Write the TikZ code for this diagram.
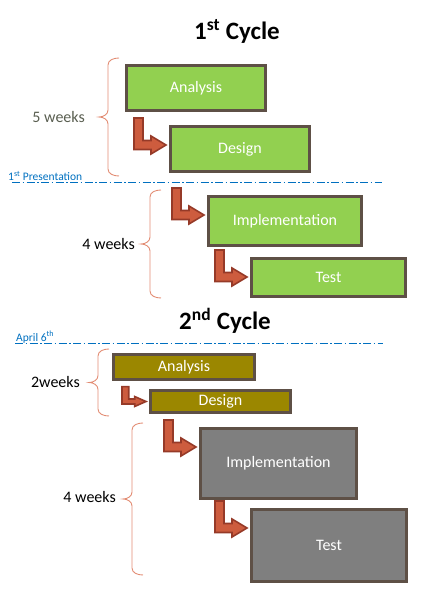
\documentclass[tikz,border=0pt]{standalone}
\usepackage{fontspec}
\setmainfont{Carlito}
\usepackage{tikz}
\usetikzlibrary{calc}
\definecolor{phasegreen}{RGB}{146,208,80}
\definecolor{phaseolive}{RGB}{155,135,0}
\definecolor{phasegray}{RGB}{127,127,127}
\definecolor{phaseedge}{RGB}{94,80,70}
\definecolor{stepfill}{RGB}{205,92,62}
\definecolor{stepedge}{RGB}{150,58,40}
\definecolor{bracecol}{RGB}{226,140,115}
\definecolor{markblue}{RGB}{0,112,192}
\definecolor{weekgray}{RGB}{89,94,80}

% bent block arrow, tip at #2
\newcommand{\steparrow}[2][]{%
  \draw[steparr, shift={(#2)}, #1] (0bp,0bp) -- (-15bp,9bp) -- (-15bp,4.5bp) -- (-23bp,4.5bp) -- (-23bp,27bp) -- (-32bp,27bp) -- (-32bp,-4.5bp) -- (-15bp,-4.5bp) -- (-15bp,-9bp) -- cycle;}
% curly bracket: x of the ends, top y, bottom y
\newcommand{\weekbrace}[3]{%
  \draw[weekbrace] (#1bp,#2bp) to[out=180,in=90] (#1bp-11bp,#2bp-7bp) -- (#1bp-11bp,#2bp/2+#3bp/2+7bp)
    to[out=-90,in=0] (#1bp-20bp,#2bp/2+#3bp/2) to[out=0,in=90] (#1bp-11bp,#2bp/2+#3bp/2-7bp)
    -- (#1bp-11bp,#3bp+7bp) to[out=-90,in=180] (#1bp,#3bp);}

\begin{document}
\begin{tikzpicture}[line join=miter,
  phase/.style={draw=phaseedge, line width=3bp, inner sep=0pt, text=white, font=\fontsize{16bp}{18bp}\selectfont},
  cycletitle/.style={font=\bfseries\fontsize{25bp}{28bp}\selectfont},
  steparr/.style={fill=stepfill, draw=stepedge, line width=1.6bp},
  weekbrace/.style={draw=bracecol, line width=0.9bp},
  weeklabel/.style={anchor=east, inner sep=0pt, font=\fontsize{16bp}{18bp}\selectfont},
  milestone/.style={draw=markblue, line width=0.9bp, dash pattern=on 8bp off 2.5bp on 1.5bp off 2.5bp},
  marktext/.style={anchor=west, inner sep=0pt, text=markblue, font=\fontsize{11.5bp}{13bp}\selectfont}]
\useasboundingbox (0bp,0bp) rectangle (425bp,596bp);
%% 1st cycle
\node (cycleA) at (237bp,565bp) [cycletitle] {1\textsuperscript{st} Cycle};
\node (anaA) at (196bp,508bp) [phase, fill=phasegreen, minimum width=139bp, minimum height=45bp] {Analysis};
\node (desA) at (240bp,447bp) [phase, fill=phasegreen, minimum width=139bp, minimum height=45bp] {Design};
\node (impA) at (285bp,375bp) [phase, fill=phasegreen, minimum width=153bp, minimum height=49bp] {Implementation};
\node (testA) at (328.5bp,318.5bp) [phase, fill=phasegreen, minimum width=154bp, minimum height=38bp] {Test};
%
\coordinate (tipA1) at ($(desA.north west)+(-3bp,-20bp)$);
\coordinate (tipA2) at ($(impA.north west)+(-3bp,-20bp)$);
\coordinate (tipA3) at ($(testA.north west)+(-3bp,-20bp)$);
\steparrow{tipA1}
\steparrow{tipA2}
\steparrow{tipA3}
%
\weekbrace{119}{538}{420}
\weekbrace{161}{406}{298}
\node (wkA1) at (85bp,479bp) [weeklabel, text=weekgray] {5 weeks};
\node (wkA2) at (135bp,352bp) [weeklabel] {4 weeks};
%
\coordinate (msA0) at (12bp,414bp);
\coordinate (msA1) at (382bp,414bp);
\draw [milestone] (msA0) -- (msA1);
\node (presA) at (8bp,420bp) [marktext] {1\textsuperscript{st} Presentation};
%% 2nd cycle
\node (cycleB) at (225bp,275bp) [cycletitle] {2\textsuperscript{nd} Cycle};
\node (anaB) at (184bp,229bp) [phase, fill=phaseolive, minimum width=141bp, minimum height=25bp] {Analysis};
\node (desB) at (220.5bp,194.5bp) [phase, fill=phaseolive, minimum width=140bp, minimum height=22bp] {Design};
\node (impB) at (278.5bp,132.5bp) [phase, fill=phasegray, minimum width=156bp, minimum height=70bp] {Implementation};
\node (testB) at (329bp,50.5bp) [phase, fill=phasegray, minimum width=155bp, minimum height=72bp] {Test};
%
\coordinate (tipB1) at ($(desB.west)+(-3bp,0bp)$);
\coordinate (tipB2) at ($(impB.north west)+(-3bp,-20bp)$);
\coordinate (tipB3) at ($(testB.north west)+(-3bp,-20bp)$);
\steparrow[xscale=0.75, yscale=0.55]{tipB1}
\steparrow{tipB2}
\steparrow{tipB3}
%
\weekbrace{109}{247}{180}
\weekbrace{143}{173}{21}
\node (wkB1) at (80bp,214bp) [weeklabel] {2weeks};
\node (wkB2) at (116bp,99bp) [weeklabel] {4 weeks};
%
\coordinate (msB0) at (15bp,253bp);
\coordinate (msB1) at (383bp,253bp);
\draw [milestone] (msB0) -- (msB1);
\node (aprB) at (16bp,259bp) [marktext] {April 6\textsuperscript{th}};
%
\end{tikzpicture}
\end{document}
